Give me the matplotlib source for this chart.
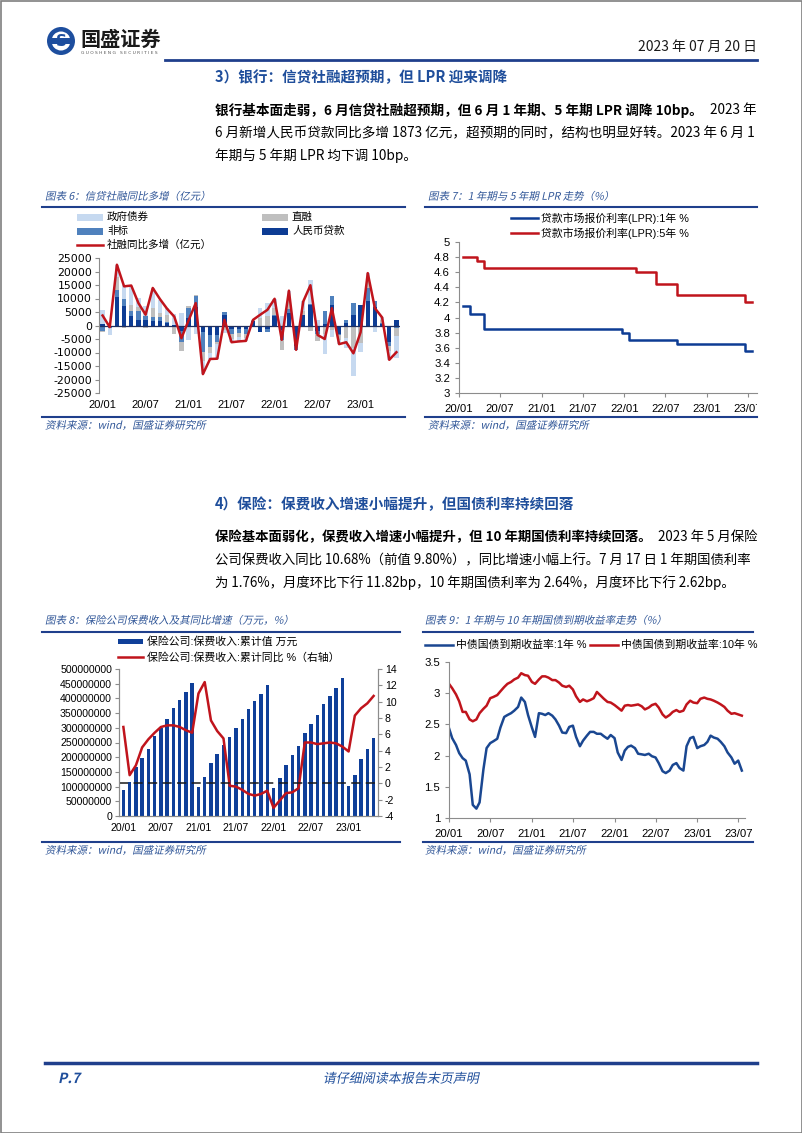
import numpy as np
import pandas as pd
import matplotlib
matplotlib.use("Agg")
import matplotlib.pyplot as plt
from matplotlib.patches import Rectangle, Circle, PathPatch
from matplotlib.lines import Line2D
from matplotlib.textpath import TextPath
from matplotlib.font_manager import FontProperties
from matplotlib.transforms import Affine2D, Bbox, TransformedBbox

plt.rcParams["font.family"] = ["Liberation Sans", "Noto Sans CJK SC"]
plt.rcParams["axes.unicode_minus"] = False

CJK = ["Noto Sans CJK SC", "DejaVu Sans"]
LAT = ["Liberation Sans", "Noto Sans CJK SC"]

NAVY = "#1f3f8c"
TITLE_BLUE = "#2f5597"
RED = "#c0141c"
DARK_BLUE = "#0d3c94"
SPINE = "#8c8c8c"

# ---- chart 6: 信贷社融同比多增 (亿元), 2020/01 - 2023/06
tick6 = ["20/01", "20/07", "21/01", "21/07", "22/01", "22/07", "23/01"]
loan = [400, -200, 10500, 7400, 3700, 2100, 2000, 1500, 1500, 1000, 100, -2200,
        2700, 7000, -2500, -3500, -3500, 3800, -1200, -1200, -1200, 1500, -2400, -1200,
        3600, -1500, 4600, -7500, 4000, 7700, -2200, 500, 7700, -3200, 900, 4000,
        7500, 8900, 7000, 500, -6000, 2000]
nonstd = [-2200, -600, 2500, 2500, 1800, 3100, 1700, 1800, 1500, 300, -500, -3800,
          3700, 4000, -7200, -4300, -2500, 1200, -1900, -1600, -2000, 300, 0, -1300,
          300, -4000, 1500, -1500, 0, 300, -800, 4900, 3100, -500, 1200, 4300,
          0, 5000, 1900, 300, -1500, -1000]
direct = [-300, 0, 5000, -1000, 2000, 1500, -1000, 3000, 1500, 2500, -2700, -3300,
          800, 300, -3500, -2500, -1000, -1500, -2000, -1500, -1500, 300, 2800, 3500,
          2500, -3500, 3000, 0, 1500, -2000, -2600, -3000, -1500, -1500, -4500, -8400,
          -6500, 2500, -300, 1200, -2000, -3000]
govt = [5400, -2900, 4500, 5100, 7000, 3500, 3500, 7600, 5000, 2600, 4000, 4500,
        -5300, -3000, -4800, -2100, -5300, -1400, -1100, -1600, -1000, 0, 3600, 4800,
        3500, 3700, 3800, 0, 3400, 8900, 2100, -7400, -2900, -1700, -3800, -10200,
        -3500, 3000, -2200, 1000, -3200, -7900]
tsf = [3700, -600, 22500, 14500, 14800, 8300, 4000, 13900, 9800, 6200, 3300, -4700,
       1900, 8300, -18000, -12400, -12300, 2100, -6200, -5900, -5700, 2100, 4000, 5800,
       9900, -5300, 12900, -9000, 8900, 14900, -3500, -5000, 6400, -6900, -6200, -10300,
       -2500, 19400, 6400, 3000, -12700, -9900]

# ---- chart 7: LPR (%), monthly 2020/01 - 2023/07
lpr_1y = [4.15, 4.05, 4.05, 3.85, 3.85, 3.85, 3.85, 3.85, 3.85, 3.85, 3.85, 3.85,
          3.85, 3.85, 3.85, 3.85, 3.85, 3.85, 3.85, 3.85, 3.85, 3.85, 3.85, 3.80,
          3.70, 3.70, 3.70, 3.70, 3.70, 3.70, 3.70, 3.65, 3.65, 3.65, 3.65, 3.65,
          3.65, 3.65, 3.65, 3.65, 3.65, 3.55, 3.55]
lpr_5y = [4.80, 4.80, 4.75, 4.65, 4.65, 4.65, 4.65, 4.65, 4.65, 4.65, 4.65, 4.65,
          4.65, 4.65, 4.65, 4.65, 4.65, 4.65, 4.65, 4.65, 4.65, 4.65, 4.65, 4.65,
          4.65, 4.60, 4.60, 4.60, 4.45, 4.45, 4.45, 4.30, 4.30, 4.30, 4.30, 4.30,
          4.30, 4.30, 4.30, 4.30, 4.30, 4.20, 4.20]
lpr_dates = pd.date_range("2020-01-01", periods=len(lpr_1y), freq="MS") + pd.Timedelta(days=19)
tick_dates = pd.date_range("2020-01-01", "2023-07-01", freq="6MS")

# ---- chart 8: 保险公司保费收入 (万元) and 累计同比 (%), 2020/01 - 2023/05
premium = [90000000, 116000000, 165000000, 198000000, 229000000, 272000000,
           298000000, 331000000, 369000000, 395000000, 421000000, 451000000,
           99000000, 131000000, 179000000, 211000000, 241000000, 270000000,
           298000000, 329000000, 363000000, 390000000, 415000000, 447000000,
           96000000, 128000000, 175000000, 207000000, 239000000, 284000000,
           313000000, 345000000, 382000000, 409000000, 436000000, 469000000,
           101000000, 138000000, 194000000, 228000000, 267000000]
premium_yoy = [6.9, 1.0, 2.2, 4.4, 5.4, 6.2, 6.9, 7.1, 7.1, 6.9, 6.5, 6.2,
               11.0, 12.4, 7.7, 6.4, 5.5, -0.3, -0.4, -0.8, -1.3, -1.5, -1.3, -0.9,
               -3.0, -2.1, -1.2, -1.1, -0.6, 5.0, 5.0, 4.8, 4.9, 5.0, 4.9, 4.5,
               3.9, 8.3, 9.2, 9.8, 10.7]

# ---- chart 9: 国债到期收益率 (%), semi-monthly readings 2020/01 - 2023/07/17
bond_dates = list(pd.date_range("2020-01-01", "2023-07-01", freq="SMS")) + [pd.Timestamp("2023-07-17")]
yield_1y = [2.44, 2.28, 2.17, 2.04, 1.96, 1.92, 1.70, 1.21, 1.15, 1.25,
            1.78, 2.12, 2.20, 2.23, 2.27, 2.45, 2.62, 2.65, 2.68, 2.72,
            2.78, 2.93, 2.86, 2.65, 2.45, 2.30, 2.68, 2.67, 2.65, 2.68,
            2.64, 2.58, 2.48, 2.37, 2.36, 2.46, 2.48, 2.30, 2.15, 2.24,
            2.32, 2.38, 2.38, 2.35, 2.35, 2.31, 2.27, 2.33, 2.28, 2.05,
            1.93, 2.08, 2.14, 2.16, 2.12, 2.03, 2.02, 2.01, 2.03, 1.99,
            1.97, 1.88, 1.75, 1.72, 1.76, 1.85, 1.88, 1.80, 1.76, 2.15,
            2.28, 2.30, 2.12, 2.15, 2.17, 2.22, 2.32, 2.29, 2.27, 2.22,
            2.15, 2.05, 1.97, 1.87, 1.92, 1.76]
yield_10y = [3.15, 3.08, 2.98, 2.87, 2.70, 2.70, 2.58, 2.55, 2.58, 2.68,
             2.75, 2.80, 2.92, 2.94, 2.97, 3.03, 3.10, 3.15, 3.18, 3.22,
             3.25, 3.32, 3.29, 3.28, 3.18, 3.15, 3.22, 3.27, 3.27, 3.25,
             3.21, 3.21, 3.17, 3.12, 3.10, 3.12, 3.06, 2.95, 2.86, 2.90,
             2.87, 2.89, 2.92, 3.02, 2.96, 2.91, 2.86, 2.85, 2.81, 2.77,
             2.72, 2.80, 2.81, 2.80, 2.81, 2.82, 2.79, 2.74, 2.77, 2.81,
             2.83, 2.77, 2.66, 2.61, 2.65, 2.70, 2.73, 2.70, 2.72, 2.82,
             2.88, 2.85, 2.84, 2.91, 2.93, 2.91, 2.90, 2.88, 2.85, 2.82,
             2.78, 2.72, 2.67, 2.68, 2.66, 2.64]

W, H = 802, 1133
fig = plt.figure(figsize=(W / 100, H / 100), dpi=100)
PIX = Affine2D().scale(1 / W, 1 / H) + fig.transFigure


def fx(x):
    return x / W


def fy(y):
    return 1 - y / H


def text(x, y, s, size, family=CJK, **kw):
    kw.setdefault("va", "center")
    fig.text(fx(x), fy(y), s, fontsize=size, family=family, **kw)


def hline(x0, x1, y, color=NAVY, lw=1.5):
    fig.add_artist(Line2D([fx(x0), fx(x1)], [fy(y), fy(y)], color=color, lw=lw,
                          transform=fig.transFigure))


def slanted(x, y, s, size_px, color=TITLE_BLUE, weight="normal", ha="left"):
    # italic look for CJK text: shear the glyph outlines
    tp = TextPath((0, 0), s, size=size_px,
                  prop=FontProperties(family="Noto Sans CJK SC", weight=weight))
    w = tp.get_extents().width
    x0 = x - w / 2 if ha == "center" else x
    tr = Affine2D().skew_deg(12, 0).translate(x0, H - y - 0.36 * size_px) + PIX
    fig.add_artist(PathPatch(tp, transform=tr, fc=color, ec="none", lw=0))


def add_axes(l, t, r, b):
    return fig.add_axes([fx(l), fy(b), (r - l) / W, (b - t) / H])


def style_axes(ax, spines=("left", "bottom")):
    for side in ["left", "right", "top", "bottom"]:
        ax.spines[side].set_visible(side in spines)
        ax.spines[side].set_color(SPINE)
        ax.spines[side].set_linewidth(0.8)
    ax.tick_params(colors=SPINE, labelcolor="black", length=3, width=0.8)
    ax.set_facecolor("none")


# ---------------- page frame & header ----------------
fig.add_artist(Rectangle((0.5, 0.5), W - 1, H - 1, transform=PIX, fill=False,
                         ec="#7f7f7f", lw=1.2))
fig.add_artist(Circle((61, H - 41), 14, transform=PIX, fc="#1d4e9e", ec="none"))
fig.add_artist(Circle((61, H - 41), 9.5, transform=PIX, fc="white", ec="none"))
fig.add_artist(Rectangle((50, H - 44), 22, 6, transform=PIX, fc="#1d4e9e", ec="none"))
text(61, 41, "S", 11, family=["DejaVu Sans"], ha="center", weight="bold", color="#1d4e9e")
text(80, 39, "国盛证券", 14.5, weight="bold", color="#1a1a1a")
text(81, 53, "G U O S H E N G   S E C U R I T I E S", 3.2, family=["DejaVu Sans"], color="#555555")
text(757, 47, "2023 年 07 月 20 日", 10, ha="right", color="#1a1a1a")
hline(165, 757, 60, lw=2)

# ---------------- section 3 text ----------------
HEAD_BLUE = "#1f4e9b"
PS = 9.8
PS4 = 9.65
text(215, 77, "3）银行：信贷社融超预期，但 LPR 迎来调降", 10.5, weight="bold", color=HEAD_BLUE)
text(215, 110, "银行基本面走弱，6 月信贷社融超预期，但 6 月 1 年期、5 年期 LPR 调降 10bp。",
     PS, weight="bold")
text(757, 110, "2023 年", PS, ha="right")
text(215, 133, "6 月新增人民币贷款同比多增 1873 亿元，超预期的同时，结构也明显好转。2023 年 6 月 1", PS)
text(215, 156, "年期与 5 年期 LPR 均下调 10bp。", PS)

# ---------------- chart 6 ----------------
slanted(45, 196, "图表 6：信贷社融同比多增（亿元）", 10.5)
hline(42, 405, 207)
slanted(45, 425, "资料来源：wind，国盛证券研究所", 10.5)
hline(42, 405, 417)

ax6 = add_axes(99, 258, 400, 393)
style_axes(ax6, spines=("left",))
x6 = np.arange(len(tsf))
pos_base = np.zeros(len(x6))
neg_base = np.zeros(len(x6))
series6 = [(loan, "#0d3c94", "人民币贷款"), (nonstd, "#4f81bd", "非标"),
           (direct, "#bfbfbf", "直融"), (govt, "#c6d9f0", "政府债券")]
for vals, col, _ in series6:
    v = np.array(vals, dtype=float)
    base = np.where(v >= 0, pos_base, neg_base)
    ax6.bar(x6, v, 0.62, bottom=base, color=col, lw=0)
    pos_base += np.clip(v, 0, None)
    neg_base += np.clip(v, None, 0)
ax6.axhline(0, color="#1f2f5f", lw=0.9)
ax6.plot(x6, tsf, color=RED, lw=1.8)
ax6.set_xlim(-0.5, len(x6) - 0.5)
ax6.set_ylim(-25000, 25000)
ax6.set_yticks(np.arange(-25000, 25001, 5000))
ax6.tick_params(axis="y", labelsize=7.8, pad=2)
for lab in ax6.get_yticklabels():
    lab.set_family(["DejaVu Sans"])
ax6.set_xticks(np.arange(0, len(x6), 6))
ax6.set_xticklabels(tick6)
ax6.tick_params(axis="x", length=0, labelsize=8, pad=5)

# legend (drawn by hand to keep the two-column layout)
for (lx, ly, col, name) in [(77, 217, "#c6d9f0", "政府债券"), (262, 217, "#bfbfbf", "直融"),
                            (77, 231, "#4f81bd", "非标"), (262, 231, "#0d3c94", "人民币贷款")]:
    fig.add_artist(Rectangle((lx, H - ly - 3.5), 26, 7, transform=PIX, fc=col, ec="none"))
    text(lx + 30, ly, name, 7.6)
fig.add_artist(Line2D([77, 103], [H - 245, H - 245], transform=PIX, color=RED, lw=1.8))
text(107, 245, "社融同比多增（亿元）", 7.6)

# ---------------- chart 7 ----------------
slanted(428, 196, "图表 7：1 年期与 5 年期 LPR 走势（%）", 10.5)
hline(425, 757, 207)
slanted(428, 425, "资料来源：wind，国盛证券研究所", 10.5)
hline(425, 757, 417)

ax7 = add_axes(459, 242, 757, 393)
style_axes(ax7)
ax7.plot(lpr_dates, lpr_1y, drawstyle="steps-post", color=DARK_BLUE, lw=1.8)
ax7.plot(lpr_dates, lpr_5y, drawstyle="steps-post", color=RED, lw=1.8)
ax7.set_xlim(pd.Timestamp("2020-01-01"), pd.Timestamp("2023-08-10"))
ax7.set_ylim(3, 5)
yt7 = np.round(np.arange(3, 5.01, 0.2), 1)
ax7.set_yticks(yt7)
ax7.set_yticklabels([f"{v:g}" for v in yt7])
ax7.set_xticks(tick_dates)
ax7.set_xticklabels([d.strftime("%y/%m") for d in tick_dates])
ax7.tick_params(labelsize=8.2)
ax7.tick_params(axis="x", pad=5)
clip7 = TransformedBbox(Bbox([[0, 0], [757 / W, 1]]), fig.transFigure)
for lab in ax7.get_xticklabels():
    lab.set_clip_box(clip7)
    lab.set_clip_on(True)
fig.add_artist(Line2D([511, 538], [H - 218, H - 218], transform=PIX, color=DARK_BLUE, lw=1.8))
text(541, 218, "贷款市场报价利率(LPR):1年 %", 7.8, family=LAT)
fig.add_artist(Line2D([511, 538], [H - 233, H - 233], transform=PIX, color=RED, lw=1.8))
text(541, 233, "贷款市场报价利率(LPR):5年 %", 7.8, family=LAT)

# ---------------- section 4 text ----------------
text(215, 504, "4）保险：保费收入增速小幅提升，但国债利率持续回落", 10.5, weight="bold", color=HEAD_BLUE)
text(215, 537, "保险基本面弱化，保费收入增速小幅提升，但 10 年期国债利率持续回落。", PS4, weight="bold")
text(757, 537, "2023 年 5 月保险", PS4, ha="right")
text(215, 560, "公司保费收入同比 10.68%（前值 9.80%），同比增速小幅上行。7 月 17 日 1 年期国债利率", PS4)
text(215, 583, "为 1.76%，月度环比下行 11.82bp，10 年期国债利率为 2.64%，月度环比下行 2.62bp。", PS4)

# ---------------- chart 8 ----------------
slanted(45, 620, "图表 8：保险公司保费收入及其同比增速（万元，%）", 10.5)
hline(42, 400, 632)
slanted(45, 850, "资料来源：wind，国盛证券研究所", 10.5)
hline(42, 400, 842)

ax8 = add_axes(119, 669, 378, 816)
x8 = np.arange(len(premium))
ax8.bar(x8, premium, 0.55, color="#0f3f99", lw=0)
ax8.set_xlim(-0.7, len(x8) - 0.3)
ax8.set_ylim(0, 500000000)
yt8 = np.arange(0, 500000001, 50000000)
ax8.set_yticks(yt8)
ax8.set_yticklabels([str(v) for v in yt8])
ax8.set_xticks(np.arange(0, len(x8), 6))
ax8.set_xticklabels(tick6)
ax8r = ax8.twinx()
ax8r.plot(x8, premium_yoy, color=RED, lw=1.8)
ax8r.axhline(0, color="#1a1a1a", lw=1.1, dashes=(6, 3.5))
ax8r.set_ylim(-4, 14)
ax8r.set_yticks(np.arange(-4, 15, 2))
style_axes(ax8, spines=("left", "bottom", "right"))
style_axes(ax8r, spines=("left", "bottom", "right"))
ax8.tick_params(labelsize=7.6, pad=2)
ax8.tick_params(axis="x", length=0, pad=5)
ax8r.tick_params(labelsize=7.6, pad=2)
fig.add_artist(Rectangle((118, H - 644), 25, 5, transform=PIX, fc="#0f3f99", ec="none"))
text(147, 642, "保险公司:保费收入:累计值 万元", 7.8, family=LAT)
fig.add_artist(Line2D([118, 143], [H - 657, H - 657], transform=PIX, color=RED, lw=1.8))
text(147, 657, "保险公司:保费收入:累计同比 %（右轴）", 7.8, family=LAT)

# ---------------- chart 9 ----------------
slanted(425, 620, "图表 9：1 年期与 10 年期国债到期收益率走势（%）", 10.5)
hline(423, 753, 632)
slanted(425, 850, "资料来源：wind，国盛证券研究所", 10.5)
hline(423, 753, 842)

ax9 = add_axes(449, 662, 745, 818)
style_axes(ax9)
ax9.plot(bond_dates, yield_1y, color="#1a4791", lw=1.8)
ax9.plot(bond_dates, yield_10y, color=RED, lw=1.8)
ax9.set_xlim(pd.Timestamp("2020-01-01"), pd.Timestamp("2023-07-31"))
ax9.set_ylim(1, 3.5)
yt9 = np.arange(1, 3.51, 0.5)
ax9.set_yticks(yt9)
ax9.set_yticklabels([f"{v:g}" for v in yt9])
ax9.set_xticks(tick_dates)
ax9.set_xticklabels([d.strftime("%y/%m") for d in tick_dates])
ax9.tick_params(labelsize=8.2)
ax9.tick_params(axis="x", pad=5)
fig.add_artist(Line2D([425, 453], [H - 645, H - 645], transform=PIX, color="#1a4791", lw=1.8))
text(456, 645, "中债国债到期收益率:1年 %", 7.8, family=LAT)
fig.add_artist(Line2D([590, 618], [H - 645, H - 645], transform=PIX, color=RED, lw=1.8))
text(621, 645, "中债国债到期收益率:10年 %", 7.8, family=LAT)

# ---------------- footer ----------------
hline(45, 757, 1063, color="#1f3f8c", lw=2.5)
slanted(58, 1078, "P.7", 14, color="#1f4e9b", weight="bold")
slanted(400, 1078, "请仔细阅读本报告末页声明", 13, color="#1f4e9b", ha="center")

fig.savefig("out.png", dpi=100)
